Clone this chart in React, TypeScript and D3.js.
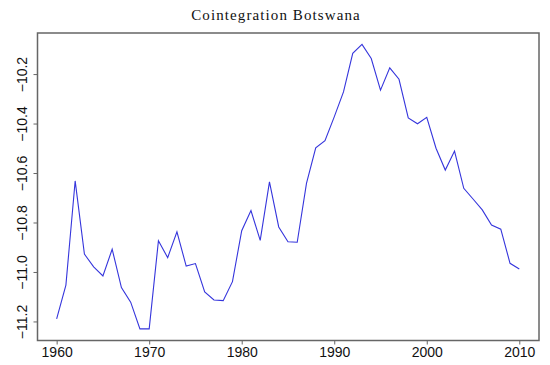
import React, { useEffect, useRef } from "react";
import * as d3 from "d3";

const years = [
  1960, 1961, 1962, 1963, 1964, 1965, 1966, 1967, 1968, 1969,
  1970, 1971, 1972, 1973, 1974, 1975, 1976, 1977, 1978, 1979,
  1980, 1981, 1982, 1983, 1984, 1985, 1986, 1987, 1988, 1989,
  1990, 1991, 1992, 1993, 1994, 1995, 1996, 1997, 1998, 1999,
  2000, 2001, 2002, 2003, 2004, 2005, 2006, 2007, 2008, 2009, 2010,
];

const values = [
  -11.19, -11.053, -10.632, -10.928, -10.979, -11.016, -10.908, -11.063, -11.122, -11.23,
  -11.23, -10.874, -10.942, -10.838, -10.976, -10.966, -11.081, -11.113, -11.116, -11.039,
  -10.833, -10.752, -10.872, -10.636, -10.818, -10.878, -10.88, -10.642, -10.498, -10.469,
  -10.373, -10.272, -10.116, -10.08, -10.137, -10.265, -10.175, -10.221, -10.377, -10.401,
  -10.375, -10.5, -10.588, -10.511, -10.662, -10.705, -10.749, -10.81, -10.827, -10.965, -10.988,
];

const xTicks = [1960, 1970, 1980, 1990, 2000, 2010];
const yTicks = [-10.2, -10.4, -10.6, -10.8, -11.0, -11.2];

const title = "Cointegration Botswana";

export default function App() {
  const ref = useRef<SVGSVGElement | null>(null);

  useEffect(() => {
    const width = 550, height = 365;
    const margin = { top: 33, right: 11, bottom: 24.5, left: 37.5 };
    const w = width - margin.left - margin.right;
    const h = height - margin.top - margin.bottom;

    const svg = d3.select(ref.current);
    svg.selectAll("*").remove();

    const g = svg.append("g")
      .attr("transform", "translate(" + margin.left + "," + margin.top + ")");

    // ranges picked to match R's 4% padding
    const x = d3.scaleLinear().domain([1957.93, 2012.13]).range([0, w]);
    const y = d3.scaleLinear().domain([-11.277, -10.034]).range([h, 0]);

    const data = years.map((yr, i) => ({ year: yr, value: values[i] }));

    g.append("path")
      .datum(data)
      .attr("fill", "none")
      .attr("stroke", "#3535dc")
      .attr("stroke-width", 1.1)
      .attr("d", d3.line<{ year: number; value: number }>()
        .x(d => x(d.year))
        .y(d => y(d.value)));

    // box
    g.append("rect")
      .attr("x", 0)
      .attr("y", 0)
      .attr("width", w)
      .attr("height", h)
      .attr("fill", "none")
      .attr("stroke", "#666")
      .attr("stroke-width", 1.5);

    // x axis
    const xAxis = g.append("g")
      .attr("transform", "translate(0," + h + ")")
      .call(d3.axisBottom(x).tickValues(xTicks).tickFormat(d3.format("d")).tickSize(4).tickPadding(3));
    xAxis.select(".domain").remove();
    xAxis.selectAll("line").attr("stroke", "#666");
    xAxis.selectAll("text")
      .attr("fill", "#111")
      .style("font-family", "Liberation Sans, Arial, sans-serif")
      .style("font-size", "14px");

    // y axis
    const yAxis = g.append("g")
      .call(d3.axisLeft(y).tickValues(yTicks).tickFormat(d3.format(".1f")).tickSize(4));
    yAxis.select(".domain").remove();
    yAxis.selectAll("line").attr("stroke", "#666");
    yAxis.selectAll("text").remove();
    yAxis.selectAll(".tick")
      .append("text")
      .attr("transform", "translate(-11,0) rotate(-90)")
      .attr("text-anchor", "middle")
      .attr("fill", "#111")
      .style("font-family", "Liberation Sans, Arial, sans-serif")
      .style("font-size", "14px")
      .text(d => d3.format(".1f")(d as number).replace("-", "\u2212"));

    // title
    svg.append("text")
      .attr("x", 276)
      .attr("y", 20)
      .attr("text-anchor", "middle")
      .attr("fill", "#111")
      .style("font-family", "Liberation Serif, Times New Roman, serif")
      .style("font-size", "15px")
      .style("letter-spacing", "1.1px")
      .text(title);
  }, []);

  return (
    <svg ref={ref} width={550} height={365}
      style={{ position: "absolute", left: 0, top: 0, background: "#fff" }} />
  );
}
